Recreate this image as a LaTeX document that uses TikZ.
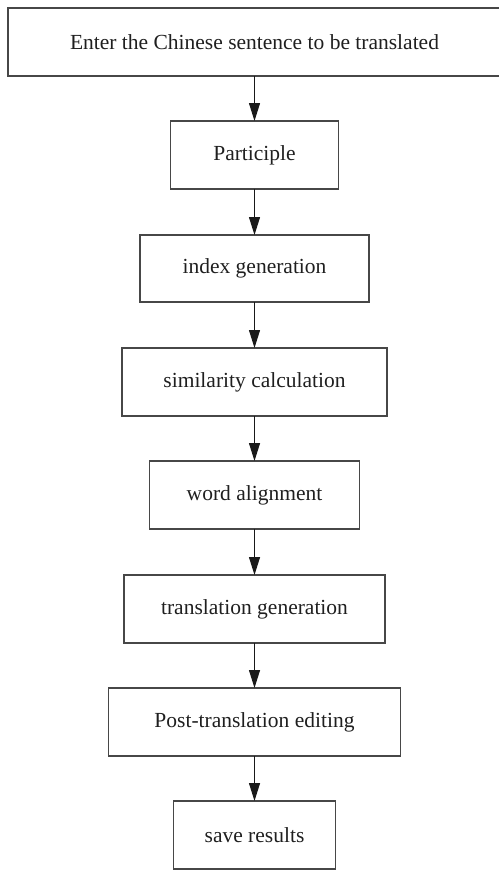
\documentclass[tikz,border=0pt]{standalone}
\usepackage{fontspec}
\setmainfont{Liberation Serif}
\usetikzlibrary{arrows.meta}
\begin{document}
\begin{tikzpicture}[x=1pt,y=-1pt,
  boxline/.style={draw=black!72, line width=1.2pt},
  steptext/.style={rectangle, inner sep=0pt, outer sep=0pt, minimum height=68pt,
    font=\fontsize{21.5}{25}\selectfont, text=black!88},
  stepbox/.style={steptext, boxline},
  flow/.style={draw=black!90, line width=1.1pt, -{Triangle[length=18pt,width=11pt]}}]
  \useasboundingbox (0,0) rectangle (498,870);
  % the first box runs off the right edge of the page
  \node[steptext, minimum width=493pt] (input) at (254.5,42) {Enter the Chinese sentence to be translated};
  \draw[boxline] ([xshift=12pt]input.north east) -| (input.south west) -- ([xshift=12pt]input.south east);
  \node[stepbox, minimum width=168pt] (seg) at (254.5,155) {Participle};
  \node[stepbox, minimum width=229pt, minimum height=67pt] (index) at (254.5,268.5) {index generation};
  \node[stepbox, minimum width=265pt] (sim) at (254.5,382) {similarity calculation};
  \node[stepbox, minimum width=210pt] (align) at (254.5,495) {word alignment};
  \node[stepbox, minimum width=261pt] (gen) at (254.5,609) {translation generation};
  \node[stepbox, minimum width=292pt] (post) at (254.5,722) {Post-translation editing};
  \node[stepbox, minimum width=162pt] (save) at (254.5,835) {save results};
  \draw[flow] (input) -- (seg);
  \draw[flow] (seg) -- (index);
  \draw[flow] (index) -- (sim);
  \draw[flow] (sim) -- (align);
  \draw[flow] (align) -- (gen);
  \draw[flow] (gen) -- (post);
  \draw[flow] (post) -- (save);
\end{tikzpicture}
\end{document}
